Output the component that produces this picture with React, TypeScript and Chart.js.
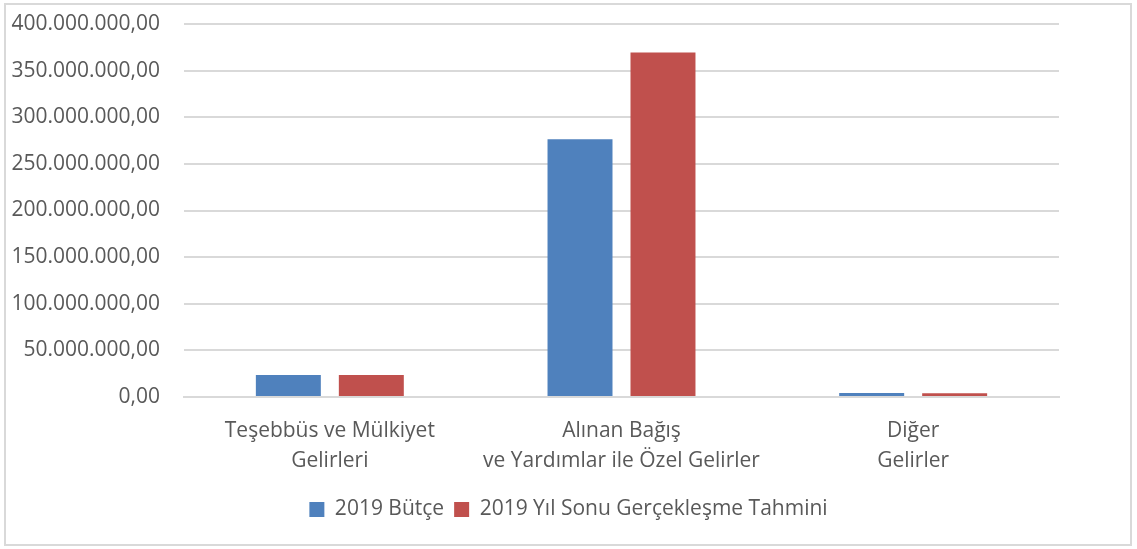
import React, { useEffect, useRef } from "react";
import { Chart, registerables } from "chart.js";

Chart.register(...registerables);

const categories: string[][] = [
  ["Teşebbüs ve Mülkiyet", "Gelirleri"],
  ["Alınan Bağış", "ve Yardımlar ile Özel Gelirler"],
  ["Diğer", "Gelirler"],
];
const seriesNames = ["2019 Bütçe", "2019 Yıl Sonu Gerçekleşme Tahmini"];
const budget2019 = [23700000, 276300000, 4300000];
const forecast2019 = [23700000, 369500000, 4100000];
const yTicks = [0, 50000000, 100000000, 150000000, 200000000, 250000000, 300000000, 350000000, 400000000];

const FONT = "'Open Sans', sans-serif";
const TEXT = "#595959";
const GRID = "#D9D9D9";
const FS = 21;

const fmt = (v: number) =>
  v.toLocaleString("tr-TR", { minimumFractionDigits: 2, maximumFractionDigits: 2 });

const borderPlugin = {
  id: "outerBorder",
  beforeDraw(chart: any) {
    const ctx = chart.ctx;
    ctx.save();
    ctx.fillStyle = "#ffffff";
    ctx.fillRect(0, 0, chart.width, chart.height);
    ctx.strokeStyle = GRID;
    ctx.lineWidth = 2;
    ctx.strokeRect(5, 4, 1126, 541);
    ctx.restore();
  },
  afterLayout(chart: any) {
    const lg = chart.legend;
    if (lg) {
      lg.left = 0;
      lg.right = chart.width;
      lg.width = chart.width;
    }
  },
};

export default function App() {
  const ref = useRef<HTMLCanvasElement>(null);
  useEffect(() => {
    if (!ref.current) return;
    const chart = new Chart(ref.current, {
      type: "bar",
      data: {
        labels: categories,
        datasets: [
          {
            label: seriesNames[0],
            data: budget2019,
            backgroundColor: "#4F81BD",
            barPercentage: 0.783,
            categoryPercentage: 0.569,
          },
          {
            label: seriesNames[1],
            data: forecast2019,
            backgroundColor: "#C0504D",
            barPercentage: 0.783,
            categoryPercentage: 0.569,
          },
        ],
      },
      options: {
        responsive: false,
        animation: false,
        layout: { padding: { top: 24, right: 78, left: 0, bottom: 19 } },
        plugins: {
          tooltip: { enabled: false },
          legend: {
            position: "bottom",
            labels: {
              color: TEXT,
              font: { family: FONT, size: FS },
              boxWidth: 15,
              boxHeight: 15,
              padding: 10,
            },
          },
        },
        scales: {
          x: {
            grid: { display: false, drawTicks: false },
            border: { color: GRID, width: 2 },
            ticks: {
              color: TEXT,
              font: { family: FONT, size: FS, lineHeight: 1.43 },
              padding: 19,
              maxRotation: 0,
              autoSkip: false,
            },
            afterFit: (s: any) => {
              s.height = 92;
            },
          },
          y: {
            min: 0,
            max: 400000000,
            afterBuildTicks: (s: any) => {
              s.ticks = yTicks.map((v) => ({ value: v }));
            },
            grid: { color: GRID, lineWidth: 2, drawTicks: false },
            border: { display: false },
            ticks: {
              color: TEXT,
              font: { family: FONT, size: FS },
              padding: 24,
              callback: (v: any) => fmt(Number(v)),
            },
            afterFit: (s: any) => {
              s.width = 184;
              s.paddingTop = 0;
              s.paddingBottom = 0;
            },
          },
        },
      },
      plugins: [borderPlugin],
    });
    return () => chart.destroy();
  }, []);
  return (
    <div style={{ position: "fixed", left: 0, top: 0, width: 1137, height: 549, background: "#fff" }}>
      <canvas ref={ref} width={1137} height={549} style={{ width: 1137, height: 549 }} />
    </div>
  );
}
